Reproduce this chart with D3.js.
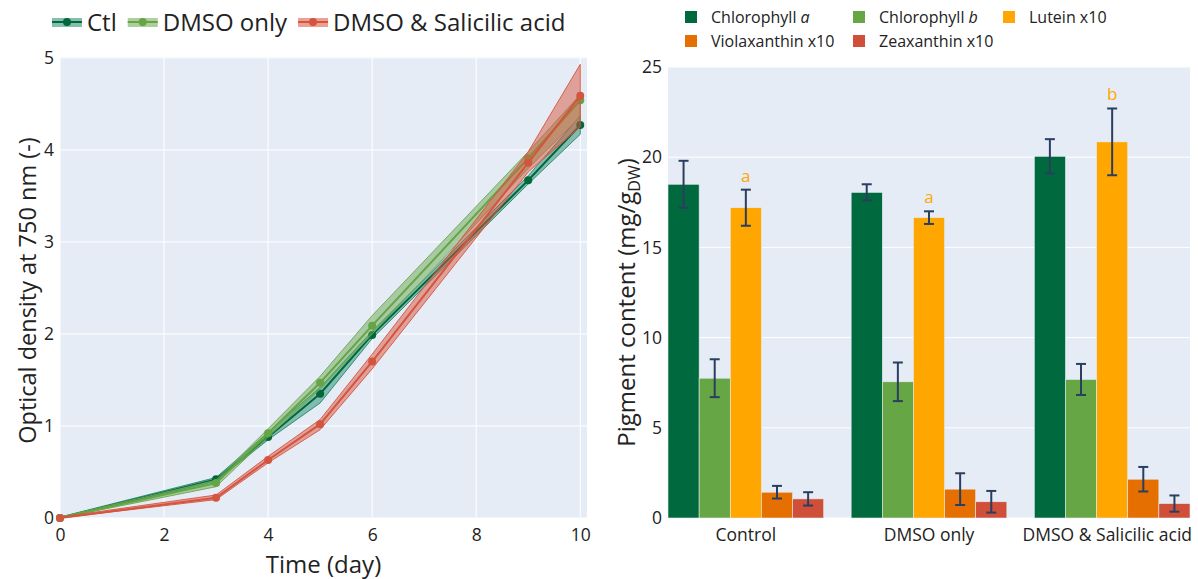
<!DOCTYPE html>
<html><head><meta charset="utf-8">
<script src="https://cdn.jsdelivr.net/npm/d3@7"></script>
<style>
body{margin:0;background:#fff;}
svg{display:block;font-family:"Open Sans",sans-serif;}
</style></head>
<body><svg id="c" width="1198" height="579"></svg>
<script>
// ---------- Left chart data (optical density) ----------
const days = [0, 3, 4, 5, 6, 9, 10];
const seriesNames = ["Ctl", "DMSO only", "DMSO & Salicilic acid"];
const ctlMean  = [0.0, 0.42, 0.88, 1.35, 1.99, 3.67, 4.27];
const ctlLow   = [0.0, 0.40, 0.85, 1.25, 1.95, 3.63, 4.17];
const ctlHigh  = [0.01, 0.44, 0.93, 1.42, 2.03, 3.72, 4.37];
const dmsoMean = [0.0, 0.38, 0.92, 1.47, 2.09, 3.91, 4.54];
const dmsoLow  = [0.0, 0.34, 0.88, 1.40, 2.00, 3.80, 4.36];
const dmsoHigh = [0.01, 0.41, 0.97, 1.54, 2.20, 3.98, 4.60];
const saMean   = [0.0, 0.22, 0.63, 1.02, 1.70, 3.86, 4.59];
const saLow    = [0.0, 0.20, 0.60, 0.96, 1.62, 3.76, 4.25];
const saHigh   = [0.01, 0.25, 0.67, 1.07, 1.78, 3.98, 4.93];
const xTicksLeft = [0, 2, 4, 6, 8, 10];
const yTicksLeft = [0, 1, 2, 3, 4, 5];

// ---------- Right chart data (pigments) ----------
const groups = ["Control", "DMSO only", "DMSO & Salicilic acid"];
const pigments = ["Chlorophyll a", "Chlorophyll b", "Lutein x10", "Violaxanthin x10", "Zeaxanthin x10"];
const chlA     = [18.5, 18.05, 20.05];
const chlAErr  = [1.3, 0.45, 0.95];
const chlB     = [7.75, 7.55, 7.68];
const chlBErr  = [1.05, 1.07, 0.86];
const lutein   = [17.2, 16.65, 20.85];
const luteinErr= [1.0, 0.35, 1.85];
const viola    = [1.43, 1.6, 2.15];
const violaErr = [0.35, 0.88, 0.68];
const zea      = [1.06, 0.9, 0.8];
const zeaErr   = [0.37, 0.6, 0.45];
const luteinLetters = ["a", "a", "b"];
const yTicksRight = [0, 5, 10, 15, 20, 25];

const svg = d3.select("#c");
const BG = "#e5ecf6", TXT = "#222";
const TICK = 17.5;

// ================= LEFT CHART =================
const L = {x0: 60, x1: 587, y0: 518, y1: 57};
const xL = d3.scaleLinear().domain([0, 10.13]).range([L.x0, L.x1]);
const yL = d3.scaleLinear().domain([0, 5.01]).range([L.y0, L.y1]);
const gL = svg.append("g");
gL.append("rect").attr("x", L.x0).attr("y", L.y1).attr("width", L.x1 - L.x0).attr("height", L.y0 - L.y1).attr("fill", BG);
gL.append("g").selectAll("line").data(xTicksLeft).join("line")
  .attr("x1", d => xL(d)).attr("x2", d => xL(d)).attr("y1", L.y0).attr("y2", L.y1)
  .attr("stroke", "#fff").attr("stroke-width", 1);
gL.append("g").selectAll("line").data(yTicksLeft).join("line")
  .attr("y1", d => yL(d)).attr("y2", d => yL(d)).attr("x1", L.x0).attr("x2", L.x1)
  .attr("stroke", "#fff").attr("stroke-width", 1);

const axXL = d3.axisBottom(xL).tickValues(xTicksLeft).tickFormat(d3.format("d")).tickSize(0).tickPadding(11);
gL.append("g").attr("transform", `translate(0,${L.y0})`).call(axXL)
  .call(g => g.select(".domain").remove())
  .selectAll("text").attr("font-size", TICK).attr("fill", TXT).attr("font-family", "Open Sans");
const axYL = d3.axisLeft(yL).tickValues(yTicksLeft).tickFormat(d3.format("d")).tickSize(0).tickPadding(6);
gL.append("g").attr("transform", `translate(${L.x0},0)`).call(axYL)
  .call(g => g.select(".domain").remove())
  .selectAll("text").attr("font-size", TICK).attr("fill", TXT).attr("font-family", "Open Sans");

gL.append("text").attr("x", (L.x0 + L.x1) / 2).attr("y", 573).attr("text-anchor", "middle")
  .attr("font-size", 24).attr("fill", TXT).text("Time (day)");
gL.append("text").attr("transform", `translate(36,${(L.y0 + L.y1) / 2 + 3}) rotate(-90)`).attr("text-anchor", "middle")
  .attr("font-size", 23.5).attr("fill", TXT).text("Optical density at 750 nm (-)");

const lineSeries = [
  {name: seriesNames[0], mean: ctlMean, low: ctlLow, high: ctlHigh, color: "#00683c", band: "#1f8a68"},
  {name: seriesNames[1], mean: dmsoMean, low: dmsoLow, high: dmsoHigh, color: "#66a545", band: "#6aa84f"},
  {name: seriesNames[2], mean: saMean, low: saLow, high: saHigh, color: "#d4553f", band: "#d9533d"}
];
const plotL = gL.append("g");
lineSeries.forEach(s => {
  const area = d3.area().x((d, i) => xL(days[i])).y0((d, i) => yL(s.low[i])).y1((d, i) => yL(s.high[i]));
  plotL.append("path").datum(s.mean).attr("d", area)
    .attr("fill", s.band).attr("fill-opacity", 0.5).attr("stroke", s.band).attr("stroke-width", 1).attr("stroke-opacity", 0.9);
  const line = d3.line().x((d, i) => xL(days[i])).y(d => yL(d));
  plotL.append("path").datum(s.mean).attr("d", line).attr("fill", "none").attr("stroke", s.color).attr("stroke-width", 2);
  plotL.append("g").selectAll("circle").data(s.mean).join("circle")
    .attr("cx", (d, i) => xL(days[i])).attr("cy", d => yL(d)).attr("r", 4).attr("fill", s.color);
});

// left legend
let lx = 52;
const legL = svg.append("g");
lineSeries.forEach(s => {
  const g = legL.append("g").attr("transform", `translate(${lx},22)`);
  g.append("rect").attr("x", 0).attr("y", -4).attr("width", 30).attr("height", 9).attr("fill", s.band).attr("fill-opacity", 0.55);
  g.append("line").attr("x1", 0).attr("x2", 30).attr("y1", 0).attr("y2", 0).attr("stroke", s.color).attr("stroke-width", 2);
  g.append("circle").attr("cx", 15).attr("cy", 0).attr("r", 4).attr("fill", s.color);
  const t = g.append("text").attr("x", 35).attr("y", 8.5).attr("font-size", 24).attr("fill", TXT).text(s.name);
  lx += 35 + t.node().getComputedTextLength() + 11;
});

// ================= RIGHT CHART =================
const R = {x0: 668, x1: 1190, y0: 518, y1: 67};
const yR = d3.scaleLinear().domain([0, 25]).range([R.y0, R.y1]);
const xR = d3.scaleBand().domain(groups).range([R.x0, R.x1]).paddingInner(0.15).paddingOuter(0);
const xSub = d3.scaleBand().domain(pigments).range([0, xR.bandwidth()]);
const gR = svg.append("g");
gR.append("rect").attr("x", R.x0).attr("y", R.y1).attr("width", R.x1 - R.x0).attr("height", R.y0 - R.y1).attr("fill", BG);
gR.append("g").selectAll("line").data(yTicksRight).join("line")
  .attr("y1", d => yR(d)).attr("y2", d => yR(d)).attr("x1", R.x0).attr("x2", R.x1)
  .attr("stroke", "#fff").attr("stroke-width", 1);
const axYR = d3.axisLeft(yR).tickValues(yTicksRight).tickSize(0).tickPadding(6);
gR.append("g").attr("transform", `translate(${R.x0},0)`).call(axYR)
  .call(g => g.select(".domain").remove())
  .selectAll("text").attr("font-size", TICK).attr("fill", TXT).attr("font-family", "Open Sans");
const axXR = d3.axisBottom(xR).tickSize(0).tickPadding(11);
gR.append("g").attr("transform", `translate(0,${R.y0})`).call(axXR)
  .call(g => g.select(".domain").remove())
  .selectAll("text").attr("font-size", TICK).attr("fill", TXT).attr("font-family", "Open Sans")
  .each(function () {
    const bb = this.getBBox();
    const tr = this.parentNode.getAttribute("transform");
    const cx = +tr.match(/translate\(([-\d.]+)/)[1];
    const right = cx + bb.x + bb.width;
    if (right > 1192) d3.select(this).attr("dx", 1192 - right);
  });

const yt = gR.append("text").attr("transform", `translate(635,${(R.y0 + R.y1) / 2 + 10}) rotate(-90)`)
  .attr("text-anchor", "middle").attr("font-size", 24).attr("fill", TXT);
yt.append("tspan").text("Pigment content (mg/g");
yt.append("tspan").attr("font-size", 16).attr("dy", 5).text("DW");
yt.append("tspan").attr("dy", -5).text(")");

const pigSeries = [
  {name: pigments[0], vals: chlA, err: chlAErr, color: "#00693e"},
  {name: pigments[1], vals: chlB, err: chlBErr, color: "#66a645"},
  {name: pigments[2], vals: lutein, err: luteinErr, color: "#ffa600"},
  {name: pigments[3], vals: viola, err: violaErr, color: "#e56f00"},
  {name: pigments[4], vals: zea, err: zeaErr, color: "#d04f39"}
];
const ERR = "#2a3f5f";
pigSeries.forEach(s => {
  const g = gR.append("g");
  groups.forEach((grp, i) => {
    const x = xR(grp) + xSub(s.name);
    const w = xSub.bandwidth();
    g.append("rect").attr("x", x).attr("y", yR(s.vals[i])).attr("width", w).attr("height", yR(0) - yR(s.vals[i]))
      .attr("fill", s.color).attr("stroke", "#e5ecf6").attr("stroke-width", 0.6);
    const cx = x + w / 2, hi = yR(s.vals[i] + s.err[i]), lo = yR(s.vals[i] - s.err[i]);
    g.append("line").attr("x1", cx).attr("x2", cx).attr("y1", hi).attr("y2", lo).attr("stroke", ERR).attr("stroke-width", 2);
    g.append("line").attr("x1", cx - 5).attr("x2", cx + 5).attr("y1", hi).attr("y2", hi).attr("stroke", ERR).attr("stroke-width", 2);
    g.append("line").attr("x1", cx - 5).attr("x2", cx + 5).attr("y1", lo).attr("y2", lo).attr("stroke", ERR).attr("stroke-width", 2);
  });
});
// letters above lutein
groups.forEach((grp, i) => {
  const cx = xR(grp) + xSub(pigments[2]) + xSub.bandwidth() / 2;
  gR.append("text").attr("x", cx).attr("y", yR(lutein[i] + luteinErr[i]) - 8).attr("text-anchor", "middle")
    .attr("font-size", 17).attr("fill", "#ffa600").text(luteinLetters[i]);
});

// right legend
const legPos = [[685, 17], [853, 17], [1003, 17], [685, 41], [853, 41]];
pigSeries.forEach((s, i) => {
  const g = svg.append("g").attr("transform", `translate(${legPos[i][0]},${legPos[i][1]})`);
  g.append("rect").attr("x", 0).attr("y", -6).attr("width", 12).attr("height", 12).attr("fill", s.color);
  const t = g.append("text").attr("x", 26).attr("y", 6).attr("font-size", 16).attr("fill", TXT);
  const m = s.name.match(/^(Chlorophyll )([ab])$/);
  if (m) { t.append("tspan").text(m[1]); t.append("tspan").attr("font-style", "italic").text(m[2]); }
  else t.text(s.name);
});
</script></body></html>
